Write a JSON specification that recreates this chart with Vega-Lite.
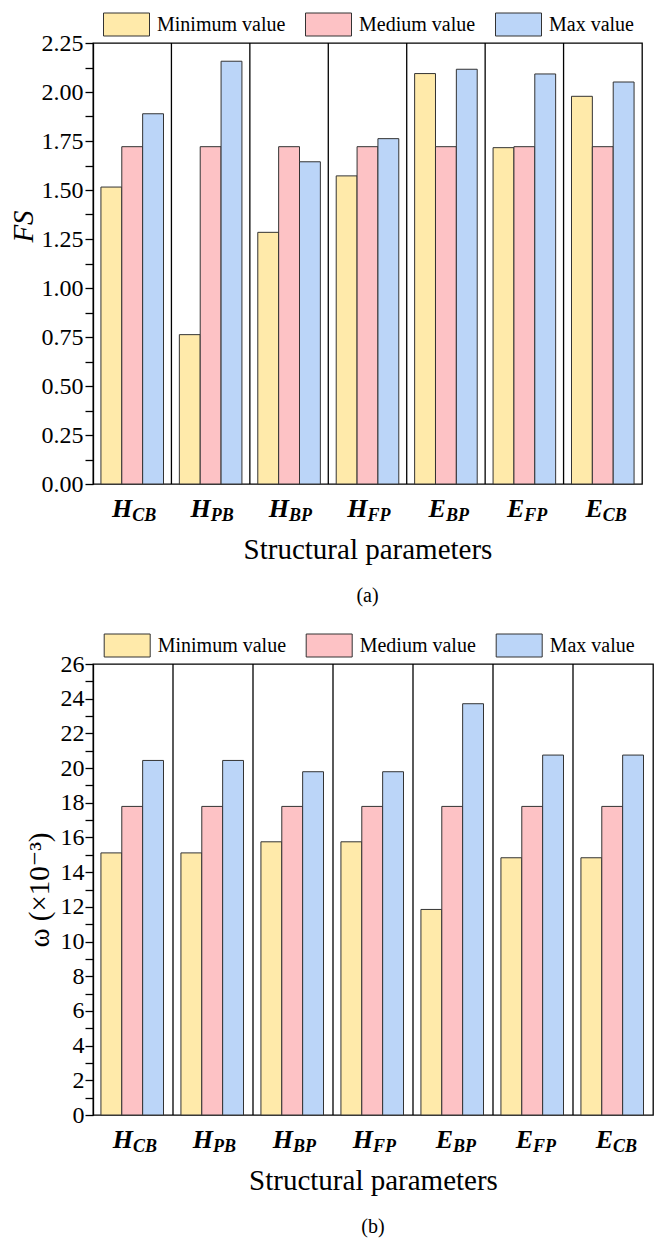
{
  "$schema": "https://vega.github.io/schema/vega-lite/v6.json",
  "padding": {"left": 8, "top": 0, "right": 2, "bottom": 0},
  "datasets": {
    "a": [
      {"param": "HCB", "series": "Minimum value", "value": 1.515},
      {"param": "HCB", "series": "Medium value", "value": 1.721},
      {"param": "HCB", "series": "Max value", "value": 1.889},
      {"param": "HPB", "series": "Minimum value", "value": 0.762},
      {"param": "HPB", "series": "Medium value", "value": 1.721},
      {"param": "HPB", "series": "Max value", "value": 2.157},
      {"param": "HBP", "series": "Minimum value", "value": 1.284},
      {"param": "HBP", "series": "Medium value", "value": 1.721},
      {"param": "HBP", "series": "Max value", "value": 1.644},
      {"param": "HFP", "series": "Minimum value", "value": 1.572},
      {"param": "HFP", "series": "Medium value", "value": 1.721},
      {"param": "HFP", "series": "Max value", "value": 1.762},
      {"param": "EBP", "series": "Minimum value", "value": 2.094},
      {"param": "EBP", "series": "Medium value", "value": 1.721},
      {"param": "EBP", "series": "Max value", "value": 2.116},
      {"param": "EFP", "series": "Minimum value", "value": 1.716},
      {"param": "EFP", "series": "Medium value", "value": 1.721},
      {"param": "EFP", "series": "Max value", "value": 2.092},
      {"param": "ECB", "series": "Minimum value", "value": 1.978},
      {"param": "ECB", "series": "Medium value", "value": 1.721},
      {"param": "ECB", "series": "Max value", "value": 2.051}
    ],
    "b": [
      {"param": "HCB", "series": "Minimum value", "value": 15.11},
      {"param": "HCB", "series": "Medium value", "value": 17.79},
      {"param": "HCB", "series": "Max value", "value": 20.44},
      {"param": "HPB", "series": "Minimum value", "value": 15.11},
      {"param": "HPB", "series": "Medium value", "value": 17.79},
      {"param": "HPB", "series": "Max value", "value": 20.44},
      {"param": "HBP", "series": "Minimum value", "value": 15.75},
      {"param": "HBP", "series": "Medium value", "value": 17.79},
      {"param": "HBP", "series": "Max value", "value": 19.79},
      {"param": "HFP", "series": "Minimum value", "value": 15.75},
      {"param": "HFP", "series": "Medium value", "value": 17.79},
      {"param": "HFP", "series": "Max value", "value": 19.79},
      {"param": "EBP", "series": "Minimum value", "value": 11.85},
      {"param": "EBP", "series": "Medium value", "value": 17.79},
      {"param": "EBP", "series": "Max value", "value": 23.71},
      {"param": "EFP", "series": "Minimum value", "value": 14.83},
      {"param": "EFP", "series": "Medium value", "value": 17.79},
      {"param": "EFP", "series": "Max value", "value": 20.75},
      {"param": "ECB", "series": "Minimum value", "value": 14.83},
      {"param": "ECB", "series": "Medium value", "value": 17.79},
      {"param": "ECB", "series": "Max value", "value": 20.75}
    ],
    "subs": [
      {"param": "HCB", "sub": "CB"},
      {"param": "HPB", "sub": "PB"},
      {"param": "HBP", "sub": "BP"},
      {"param": "HFP", "sub": "FP"},
      {"param": "EBP", "sub": "BP"},
      {"param": "EFP", "sub": "FP"},
      {"param": "ECB", "sub": "CB"}
    ],
    "seps": [
      {"param": "HPB"}, {"param": "HBP"}, {"param": "HFP"},
      {"param": "EBP"}, {"param": "EFP"}, {"param": "ECB"}
    ]
  },
  "config": {
    "font": "Liberation Serif, Times New Roman, Times, DejaVu Serif, serif",
    "view": {"stroke": "#000", "strokeWidth": 1.3},
    "axis": {
      "grid": false, "domainColor": "#000", "domainWidth": 1.3,
      "tickColor": "#000", "tickWidth": 1.3,
      "labelColor": "#000", "titleColor": "#000",
      "labelFont": "Liberation Serif, Times New Roman, Times, DejaVu Serif, serif",
      "titleFont": "Liberation Serif, Times New Roman, Times, DejaVu Serif, serif",
      "titleFontWeight": "normal", "labelOverlap": false
    },
    "legend": {
      "labelFont": "Liberation Serif, Times New Roman, Times, DejaVu Serif, serif",
      "labelFontSize": 20, "labelColor": "#000",
      "symbolType": "M-1,-0.5H1V0.5H-1Z", "symbolSize": 2116,
      "symbolStrokeColor": "#333", "symbolStrokeWidth": 1, "symbolOpacity": 1,
      "labelOffset": 7, "columnPadding": 17, "padding": 0
    },
    "title": {"font": "Liberation Serif, Times New Roman, Times, DejaVu Serif, serif", "fontWeight": "normal", "color": "#000"},
    "text": {"font": "Liberation Serif, Times New Roman, Times, DejaVu Serif, serif"}
  },
  "spacing": 14,
  "resolve": {"scale": {"color": "independent"}},
  "vconcat": [
    {
      "width": 549, "height": 441,
      "title": {"text": "(a)", "orient": "bottom", "fontSize": 20, "offset": 22},
      "layer": [
        {
          "data": {"name": "a"},
          "mark": {"type": "bar", "stroke": "#333", "strokeWidth": 1},
          "encoding": {
            "x": {
              "field": "param", "type": "nominal",
              "sort": ["HCB", "HPB", "HBP", "HFP", "EBP", "EFP", "ECB"],
              "scale": {"paddingInner": 0, "paddingOuter": 0},
              "axis": {
                "title": "Structural parameters", "titleFontSize": 29, "titlePadding": 14,
                "labelExpr": "slice(datum.label, 0, 1)", "labelFontSize": 26,
                "labelFontStyle": "italic", "labelFontWeight": "bold",
                "labelAlign": "right", "labelBaseline": "alphabetic", "labelPadding": 32,
                "labelAngle": 0, "ticks": false, "tickSize": 0, "domain": false
              }
            },
            "xOffset": {
              "field": "series", "type": "nominal",
              "sort": ["Minimum value", "Medium value", "Max value"],
              "scale": {"paddingOuter": 0.38, "paddingInner": 0}
            },
            "y": {
              "field": "value", "type": "quantitative",
              "scale": {"domain": [0, 2.25], "nice": false},
              "axis": {
                "title": "FS", "titleFontStyle": "italic", "titleFontSize": 29, "titlePadding": 3, "titleY": 183,
                "values": [0, 0.125, 0.25, 0.375, 0.5, 0.625, 0.75, 0.875, 1, 1.125, 1.25, 1.375, 1.5, 1.625, 1.75, 1.875, 2, 2.125, 2.25],
                "labelExpr": "datum.value % 0.25 === 0 ? format(datum.value, '.2f') : ''",
                "labelOverlap": false, "labelSeparation": -20,
                "labelFontSize": 24, "tickSize": 8, "labelPadding": 2,
                "encode": {"ticks": {"update": {"x": {"value": 0}, "x2": {"signal": "datum.value % 0.25 === 0 ? 8 : 4"}}}}
              }
            },
            "color": {
              "field": "series", "type": "nominal",
              "sort": ["Minimum value", "Medium value", "Max value"],
              "scale": {"domain": ["Minimum value", "Medium value", "Max value"], "range": ["#FFEAAA", "#FDC2C5", "#BBD5F8"]},
              "legend": {"title": null, "orient": "none", "legendX": 10, "legendY": -42, "direction": "horizontal"}
            }
          }
        },
        {
          "data": {"name": "seps"},
          "mark": {"type": "rule", "color": "#000", "strokeWidth": 1.3},
          "encoding": {
            "x": {"field": "param", "type": "nominal", "sort": ["HCB", "HPB", "HBP", "HFP", "EBP", "EFP", "ECB"], "bandPosition": 0}
          }
        },
        {
          "data": {"name": "subs"},
          "mark": {"type": "text", "align": "left", "baseline": "alphabetic", "dy": 37, "fontSize": 18, "fontStyle": "italic", "fontWeight": "bold", "color": "#000"},
          "encoding": {
            "x": {"field": "param", "type": "nominal", "sort": ["HCB", "HPB", "HBP", "HFP", "EBP", "EFP", "ECB"]},
            "y": {
              "datum": 0, "type": "quantitative",
              "axis": {
                "title": "FS", "titleFontStyle": "italic", "titleFontSize": 29, "titlePadding": 3, "titleY": 183,
                "values": [0, 0.125, 0.25, 0.375, 0.5, 0.625, 0.75, 0.875, 1, 1.125, 1.25, 1.375, 1.5, 1.625, 1.75, 1.875, 2, 2.125, 2.25],
                "labelExpr": "datum.value % 0.25 === 0 ? format(datum.value, '.2f') : ''",
                "labelOverlap": false, "labelSeparation": -20,
                "labelFontSize": 24, "tickSize": 8, "labelPadding": 2,
                "encode": {"ticks": {"update": {"x": {"value": 0}, "x2": {"signal": "datum.value % 0.25 === 0 ? 8 : 4"}}}}
              }
            },
            "text": {"field": "sub"}
          }
        }
      ]
    },
    {
      "width": 560, "height": 451,
      "title": {"text": "(b)", "orient": "bottom", "fontSize": 20, "offset": 22},
      "layer": [
        {
          "data": {"name": "b"},
          "mark": {"type": "bar", "stroke": "#333", "strokeWidth": 1},
          "encoding": {
            "x": {
              "field": "param", "type": "nominal",
              "sort": ["HCB", "HPB", "HBP", "HFP", "EBP", "EFP", "ECB"],
              "scale": {"paddingInner": 0, "paddingOuter": 0},
              "axis": {
                "title": "Structural parameters", "titleFontSize": 29, "titlePadding": 14,
                "labelExpr": "slice(datum.label, 0, 1)", "labelFontSize": 26,
                "labelFontStyle": "italic", "labelFontWeight": "bold",
                "labelAlign": "right", "labelBaseline": "alphabetic", "labelPadding": 32,
                "labelAngle": 0, "ticks": false, "tickSize": 0, "domain": false
              }
            },
            "xOffset": {
              "field": "series", "type": "nominal",
              "sort": ["Minimum value", "Medium value", "Max value"],
              "scale": {"paddingOuter": 0.38, "paddingInner": 0}
            },
            "y": {
              "field": "value", "type": "quantitative",
              "scale": {"domain": [0, 26], "nice": false},
              "axis": {
                "title": "ω (×10⁻³)", "titleFontSize": 29, "titlePadding": 6,
                "values": [0, 1, 2, 3, 4, 5, 6, 7, 8, 9, 10, 11, 12, 13, 14, 15, 16, 17, 18, 19, 20, 21, 22, 23, 24, 25, 26],
                "labelExpr": "datum.value % 2 === 0 ? datum.label : ''",
                "labelOverlap": false, "labelSeparation": -20,
                "labelFontSize": 24, "tickSize": 8, "labelPadding": 1,
                "encode": {"ticks": {"update": {"x": {"value": 0}, "x2": {"signal": "datum.value % 2 === 0 ? 8 : 4"}}}}
              }
            },
            "color": {
              "field": "series", "type": "nominal",
              "sort": ["Minimum value", "Medium value", "Max value"],
              "scale": {"domain": ["Minimum value", "Medium value", "Max value"], "range": ["#FFEAAA", "#FDC2C5", "#BBD5F8"]},
              "legend": {"title": null, "orient": "none", "legendX": 10.7, "legendY": -42, "direction": "horizontal"}
            }
          }
        },
        {
          "data": {"name": "seps"},
          "mark": {"type": "rule", "color": "#000", "strokeWidth": 1.3},
          "encoding": {
            "x": {"field": "param", "type": "nominal", "sort": ["HCB", "HPB", "HBP", "HFP", "EBP", "EFP", "ECB"], "bandPosition": 0}
          }
        },
        {
          "data": {"name": "subs"},
          "mark": {"type": "text", "align": "left", "baseline": "alphabetic", "dy": 37, "fontSize": 18, "fontStyle": "italic", "fontWeight": "bold", "color": "#000"},
          "encoding": {
            "x": {"field": "param", "type": "nominal", "sort": ["HCB", "HPB", "HBP", "HFP", "EBP", "EFP", "ECB"]},
            "y": {
              "datum": 0, "type": "quantitative",
              "axis": {
                "title": "ω (×10⁻³)", "titleFontSize": 29, "titlePadding": 6,
                "values": [0, 1, 2, 3, 4, 5, 6, 7, 8, 9, 10, 11, 12, 13, 14, 15, 16, 17, 18, 19, 20, 21, 22, 23, 24, 25, 26],
                "labelExpr": "datum.value % 2 === 0 ? datum.label : ''",
                "labelOverlap": false, "labelSeparation": -20,
                "labelFontSize": 24, "tickSize": 8, "labelPadding": 1,
                "encode": {"ticks": {"update": {"x": {"value": 0}, "x2": {"signal": "datum.value % 2 === 0 ? 8 : 4"}}}}
              }
            },
            "text": {"field": "sub"}
          }
        }
      ]
    }
  ]
}
